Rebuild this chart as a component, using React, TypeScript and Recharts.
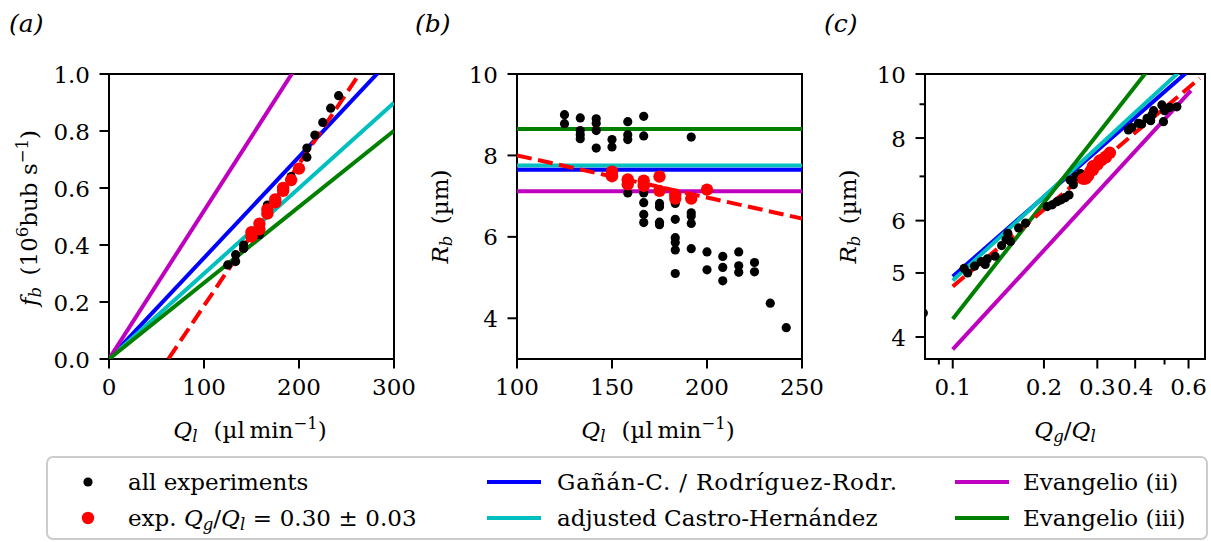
import React from 'react';
import { ComposedChart, Scatter, Line, XAxis, YAxis, ReferenceArea } from 'recharts';

const FONT = '"DejaVu Serif", "Liberation Serif", serif';
const FS = 23;
const SUB = 16.5;
const BLUE = '#0000ff';
const CYAN = '#00bfbf';
const PURPLE = '#bf00bf';
const GREEN = '#008000';
const RED = '#ff0000';

// ---------- panel (a): f_b vs Q_l ----------
const qlA_all = [125, 133.3, 133.3, 141.7, 141.7, 150, 150, 158.3, 158.3, 166.7, 166.7, 175, 183.3, 191.7, 200, 208.3, 208.3, 216.7, 225, 233.3, 241.7];
const fbA_all = [0.33, 0.342, 0.366, 0.388, 0.4, 0.43, 0.447, 0.436, 0.478, 0.512, 0.54, 0.555, 0.595, 0.64, 0.67, 0.708, 0.74, 0.786, 0.83, 0.88, 0.924];
const qlA_red = [150, 150, 158.3, 158.3, 166.7, 166.7, 175, 175, 183.3, 183.3, 191.7, 200];
const fbA_red = [0.43, 0.445, 0.455, 0.475, 0.51, 0.525, 0.55, 0.56, 0.59, 0.6, 0.628, 0.668];
const qlA_line = [0, 300];
const fbA_blue = [0, 1.064];
const fbA_cyan = [0, 0.899];
const fbA_purple = [0, 1.56];
const fbA_green = [0, 0.801];
const qlA_fit = [50, 270];
const fbA_fit = [-0.062, 1.032];
const xTicksA = [0, 100, 200, 300];
const yTicksA = [0, 0.2, 0.4, 0.6, 0.8, 1.0];

// ---------- panel (b): R_b vs Q_l ----------
const qlB_all = [
  125, 125,
  133.3, 133.3, 133.3, 133.3,
  141.7, 141.7, 141.7, 141.7,
  150, 150,
  158.3, 158.3, 158.3, 158.3,
  166.7, 166.7, 166.7, 166.7, 166.7, 166.7,
  175, 175, 175, 175,
  183.3, 183.3, 183.3, 183.3, 183.3, 183.3,
  191.7, 191.7, 191.7, 191.7, 191.7,
  200, 200,
  208.3, 208.3, 208.3,
  216.7, 216.7, 216.7,
  225, 225,
  233.3,
  241.7,
];
const rbB_all = [
  9.0, 8.78,
  8.92, 8.61, 8.51, 8.41,
  8.9, 8.79, 8.61, 8.18,
  8.39, 8.21,
  8.83, 8.51, 8.39, 7.08,
  8.96, 8.48, 7.08, 6.84, 6.55, 6.35,
  6.82, 6.74, 6.36, 6.3,
  6.82, 6.43, 5.98, 5.86, 5.68, 5.1,
  8.45, 6.59, 6.51, 6.33, 5.71,
  5.63, 5.19,
  5.52, 5.25, 4.92,
  5.63, 5.29, 5.13,
  5.37, 5.14,
  4.37,
  3.77,
];
const qlB_red = [150, 150, 158.3, 158.3, 166.7, 166.7, 175, 175, 183.3, 183.3, 191.7, 200];
const rbB_red = [7.6, 7.49, 7.41, 7.29, 7.38, 7.25, 7.48, 7.13, 7.03, 6.94, 6.94, 7.16];
const qlB_line = [100, 250];
const rbB_blue = [7.65, 7.65];
const rbB_cyan = [7.75, 7.75];
const rbB_purple = [7.12, 7.12];
const rbB_green = [8.65, 8.65];
const rbB_fit = [8.0, 6.45];
const xTicksB = [100, 150, 200, 250];
const yTicksB = [4, 6, 8, 10];

// ---------- panel (c): R_b vs Q_g/Q_l (log-log) ----------
const ratioC_all = [0.08, 0.109, 0.112, 0.118, 0.124, 0.128, 0.13, 0.138, 0.145, 0.15, 0.152, 0.155, 0.165, 0.174, 0.205, 0.213, 0.221, 0.228, 0.235, 0.242, 0.244, 0.25, 0.255, 0.264, 0.38, 0.39, 0.41, 0.42, 0.438, 0.45, 0.454, 0.46, 0.49, 0.496, 0.5, 0.52, 0.549];
const rbC_all = [4.35, 5.08, 5.0, 5.12, 5.2, 5.15, 5.25, 5.3, 5.5, 5.62, 5.74, 5.58, 5.85, 5.95, 6.3, 6.34, 6.41, 6.45, 6.5, 6.56, 6.91, 6.8, 7.0, 7.07, 8.23, 8.3, 8.42, 8.4, 8.57, 8.5, 8.67, 8.8, 8.98, 8.47, 8.8, 8.9, 8.92];
const ratioC_red = [0.33, 0.32, 0.31, 0.3, 0.305, 0.29, 0.32, 0.285, 0.28, 0.27, 0.275, 0.29];
const rbC_red = [7.6, 7.5, 7.41, 7.29, 7.39, 7.25, 7.48, 7.13, 7.02, 6.94, 6.95, 7.16];
const ratioC_line = [0.1, 0.68];
const rbC_blue = [4.94, 10.63];
const rbC_cyan = [4.87, 10.94];
const rbC_green = [4.26, 13.06];
const ratioC_purple = [0.1, 0.611];
const rbC_purple = [3.83, 9.44];
const ratioC_fit = [0.1, 0.653];
const rbC_fit = [4.77, 9.85];
const xTicksC = [0.09, 0.1, 0.2, 0.3, 0.4, 0.5, 0.6];
const xMinorC = [0.09, 0.5];
const yTicksC = [4, 5, 6, 7, 8, 9, 10];
const yMinorC = [7, 9];

const zip = (xs: number[], ys: number[]) => xs.map((x, i) => ({ x, y: ys[i] }));

const TICK_LEN = 9.5;
const MINOR_LEN = 5.5;
const PAD = 9.5;

function makeXTick(fmt: (v: number) => string, minor: number[] = []) {
  return (props: any) => {
    const { x, y, payload } = props;
    const v = payload.value;
    const isMinor = minor.includes(v);
    return (
      <g key={`xt-${v}`}>
        <line x1={x} x2={x} y1={y} y2={y + (isMinor ? MINOR_LEN : TICK_LEN)} stroke="#000" strokeWidth={2} />
        {!isMinor && (
          <text x={x} y={y + TICK_LEN + PAD + 17} textAnchor="middle" fontFamily={FONT} fontSize={FS} fill="#000">
            {fmt(v)}
          </text>
        )}
      </g>
    );
  };
}

function makeYTick(fmt: (v: number) => string, minor: number[] = []) {
  return (props: any) => {
    const { x, y, payload } = props;
    const v = payload.value;
    const isMinor = minor.includes(v);
    return (
      <g key={`yt-${v}`}>
        <line x1={x} x2={x - (isMinor ? MINOR_LEN : TICK_LEN)} y1={y} y2={y} stroke="#000" strokeWidth={2} />
        {!isMinor && (
          <text x={x - TICK_LEN - PAD} y={y + 8.5} textAnchor="end" fontFamily={FONT} fontSize={FS} fill="#000">
            {fmt(v)}
          </text>
        )}
      </g>
    );
  };
}

const dotBlack = (p: any) => <circle cx={p.cx} cy={p.cy} r={4.6} fill="#000" />;
const dotRed = (p: any) => <circle cx={p.cx} cy={p.cy} r={6.2} fill={RED} />;

const LW = 4;
const DASH = '15 6.5';

const H = 450;
const MARGIN_TOP = 74;
const XAXIS_H = 91;

function line(data: { x: number; y: number }[], color: string, dashed = false) {
  return (
    <Line
      data={data}
      dataKey="y"
      stroke={color}
      strokeWidth={LW}
      strokeDasharray={dashed ? DASH : undefined}
      dot={false}
      activeDot={false}
      isAnimationActive={false}
      type="linear"
      strokeLinecap="butt"
    />
  );
}

function PanelA() {
  return (
    <ComposedChart width={440} height={H} margin={{ top: MARGIN_TOP, right: 46, bottom: 0, left: 0 }}>
      <XAxis dataKey="x" type="number" domain={[0, 300]} ticks={xTicksA} allowDataOverflow interval={0}
        height={XAXIS_H} axisLine={false} tickLine={false} tickSize={0} tickMargin={0}
        tick={makeXTick((v) => String(v))} />
      <YAxis dataKey="y" type="number" domain={[0, 1]} ticks={yTicksA} allowDataOverflow interval={0}
        width={109} axisLine={false} tickLine={false} tickSize={0} tickMargin={0}
        tick={makeYTick((v) => v.toFixed(1))} />
      <Scatter data={zip(qlA_all, fbA_all)} shape={dotBlack} isAnimationActive={false} />
      <Scatter data={zip(qlA_red, fbA_red)} shape={dotRed} isAnimationActive={false} />
      {line(zip(qlA_line, fbA_blue), BLUE)}
      {line(zip(qlA_line, fbA_cyan), CYAN)}
      {line(zip(qlA_line, fbA_purple), PURPLE)}
      {line(zip(qlA_line, fbA_green), GREEN)}
      {line(zip(qlA_fit, fbA_fit), RED, true)}
      <ReferenceArea x1={0} x2={300} y1={0} y2={1} fill="none" stroke="#000" strokeWidth={2} ifOverflow="visible" />
    </ComposedChart>
  );
}

function PanelB() {
  return (
    <ComposedChart width={440} height={H} margin={{ top: MARGIN_TOP, right: 38, bottom: 0, left: 0 }}>
      <XAxis dataKey="x" type="number" domain={[100, 250]} ticks={xTicksB} allowDataOverflow interval={0}
        height={XAXIS_H} axisLine={false} tickLine={false} tickSize={0} tickMargin={0}
        tick={makeXTick((v) => String(v))} />
      <YAxis dataKey="y" type="number" domain={[3, 10]} ticks={yTicksB} allowDataOverflow interval={0}
        width={117} axisLine={false} tickLine={false} tickSize={0} tickMargin={0}
        tick={makeYTick((v) => String(v))} />
      <Scatter data={zip(qlB_all, rbB_all)} shape={dotBlack} isAnimationActive={false} />
      <Scatter data={zip(qlB_red, rbB_red)} shape={dotRed} isAnimationActive={false} />
      {line(zip(qlB_line, rbB_cyan), CYAN)}
      {line(zip(qlB_line, rbB_blue), BLUE)}
      {line(zip(qlB_line, rbB_purple), PURPLE)}
      {line(zip(qlB_line, rbB_green), GREEN)}
      {line(zip(qlB_line, rbB_fit), RED, true)}
      <ReferenceArea x1={100} x2={250} y1={3} y2={10} fill="none" stroke="#000" strokeWidth={2} ifOverflow="visible" />
    </ComposedChart>
  );
}

function PanelC() {
  return (
    <ComposedChart width={401} height={H} margin={{ top: MARGIN_TOP, right: 6, bottom: 0, left: 0 }}>
      <XAxis dataKey="x" type="number" scale="log" domain={[0.081, 0.68]} ticks={xTicksC} allowDataOverflow interval={0}
        height={XAXIS_H} axisLine={false} tickLine={false} tickSize={0} tickMargin={0}
        tick={makeXTick((v) => String(v), xMinorC)} />
      <YAxis dataKey="y" type="number" scale="log" domain={[3.705, 10]} ticks={yTicksC} allowDataOverflow interval={0}
        width={115} axisLine={false} tickLine={false} tickSize={0} tickMargin={0}
        tick={makeYTick((v) => String(v), yMinorC)} />
      <Scatter data={zip(ratioC_all, rbC_all)} shape={dotBlack} isAnimationActive={false} />
      <Scatter data={zip(ratioC_red, rbC_red)} shape={dotRed} isAnimationActive={false} />
      {line(zip(ratioC_line, rbC_blue), BLUE)}
      {line(zip(ratioC_line, rbC_cyan), CYAN)}
      {line(zip(ratioC_purple, rbC_purple), PURPLE)}
      {line(zip(ratioC_line, rbC_green), GREEN)}
      {line(zip(ratioC_fit, rbC_fit), RED, true)}
      <ReferenceArea x1={0.081} x2={0.68} y1={3.705} y2={10} fill="none" stroke="#000" strokeWidth={2} ifOverflow="visible" />
    </ComposedChart>
  );
}

function QlLabel({ cx, y }: { cx: number; y: number }) {
  return (
    <text x={cx} y={y} textAnchor="middle" fontFamily={FONT} fontSize={FS} fill="#000">
      <tspan fontStyle="italic">Q</tspan>
      <tspan fontStyle="italic" fontSize={SUB} dy={4}>l</tspan>
      <tspan dy={-4}>{'\u2002\u2009'}(µl{'\u2009'}min</tspan>
      <tspan fontSize={SUB} dy={-9}>−1</tspan>
      <tspan dy={9}>)</tspan>
    </text>
  );
}

function RbLabel({ x, cy }: { x: number; cy: number }) {
  return (
    <text x={x} y={cy} transform={`rotate(-90 ${x} ${cy})`} textAnchor="middle" fontFamily={FONT} fontSize={FS} fill="#000">
      <tspan fontStyle="italic">R</tspan>
      <tspan fontStyle="italic" fontSize={SUB} dy={4}>b</tspan>
      <tspan dy={-4}>{'\u2002'}(µm)</tspan>
    </text>
  );
}

function Overlay() {
  const r1 = 482;
  const r2 = 518;
  return (
    <svg width={1211} height={542} style={{ position: 'absolute', left: 0, top: 0, pointerEvents: 'none' }}>
      {/* panel titles */}
      <text x={9} y={32} fontFamily={FONT} fontSize={25} fontStyle="italic" fill="#000">(a)</text>
      <text x={415} y={32} fontFamily={FONT} fontSize={25} fontStyle="italic" fill="#000">(b)</text>
      <text x={824} y={32} fontFamily={FONT} fontSize={25} fontStyle="italic" fill="#000">(c)</text>

      {/* axis labels */}
      <QlLabel cx={250} y={438} />
      <QlLabel cx={658} y={438} />
      <text x={1065} y={438} textAnchor="middle" fontFamily={FONT} fontSize={FS} fill="#000">
        <tspan fontStyle="italic">Q</tspan>
        <tspan fontStyle="italic" fontSize={SUB} dy={4}>g</tspan>
        <tspan dy={-4}>/</tspan>
        <tspan fontStyle="italic">Q</tspan>
        <tspan fontStyle="italic" fontSize={SUB} dy={4}>l</tspan>
      </text>
      <text x={37} y={218} transform={`rotate(-90 37 218)`} textAnchor="middle" fontFamily={FONT} fontSize={FS} fill="#000">
        <tspan fontStyle="italic">f</tspan>
        <tspan fontStyle="italic" fontSize={SUB} dy={4}>b</tspan>
        <tspan dy={-4}>{'\u2002'}(10</tspan>
        <tspan fontSize={SUB} dy={-9}>6</tspan>
        <tspan dy={9}>bub s</tspan>
        <tspan fontSize={SUB} dy={-9}>−1</tspan>
        <tspan dy={9}>)</tspan>
      </text>
      <RbLabel x={448} cy={216.5} />
      <RbLabel x={856} cy={216.5} />

      {/* legend */}
      <rect x={47} y={457} width={1160} height={82} rx={6} ry={6} fill="#ffffff" fillOpacity={0.8} stroke="#cccccc" strokeWidth={2} />
      <circle cx={88} cy={r1} r={4.6} fill="#000" />
      <text x={128} y={r1 + 8} fontFamily={FONT} fontSize={FS} fill="#000">all experiments</text>
      <circle cx={88} cy={r2} r={6.2} fill={RED} />
      <text x={128} y={r2 + 8} fontFamily={FONT} fontSize={FS} fill="#000">
        <tspan>exp. </tspan>
        <tspan fontStyle="italic">Q</tspan>
        <tspan fontStyle="italic" fontSize={SUB} dy={4}>g</tspan>
        <tspan dy={-4}>/</tspan>
        <tspan fontStyle="italic">Q</tspan>
        <tspan fontStyle="italic" fontSize={SUB} dy={4}>l</tspan>
        <tspan dy={-4}>{'\u2004=\u20040.30\u2004±\u20040.03'}</tspan>
      </text>

      <line x1={487} x2={541} y1={r1} y2={r1} stroke={BLUE} strokeWidth={LW} />
      <text x={557} y={r1 + 8} fontFamily={FONT} fontSize={FS} fill="#000" textLength={340} lengthAdjust="spacing">Gañán-C. / Rodríguez-Rodr.</text>
      <line x1={487} x2={541} y1={r2} y2={r2} stroke={CYAN} strokeWidth={LW} />
      <text x={557} y={r2 + 8} fontFamily={FONT} fontSize={FS} fill="#000">adjusted Castro-Hernández</text>

      <line x1={955} x2={1009} y1={r1} y2={r1} stroke={PURPLE} strokeWidth={LW} />
      <text x={1023} y={r1 + 8} fontFamily={FONT} fontSize={FS} fill="#000">Evangelio (ii)</text>
      <line x1={955} x2={1009} y1={r2} y2={r2} stroke={GREEN} strokeWidth={LW} />
      <text x={1023} y={r2 + 8} fontFamily={FONT} fontSize={FS} fill="#000">Evangelio (iii)</text>
    </svg>
  );
}

export default function App() {
  return (
    <div style={{ position: 'absolute', left: 0, top: 0, width: 1211, height: 542, background: '#fff', overflow: 'hidden', fontFamily: FONT }}>
      <div style={{ position: 'absolute', left: 0, top: 0 }}><PanelA /></div>
      <div style={{ position: 'absolute', left: 400, top: 0 }}><PanelB /></div>
      <div style={{ position: 'absolute', left: 810, top: 0 }}><PanelC /></div>
      <Overlay />
    </div>
  );
}
